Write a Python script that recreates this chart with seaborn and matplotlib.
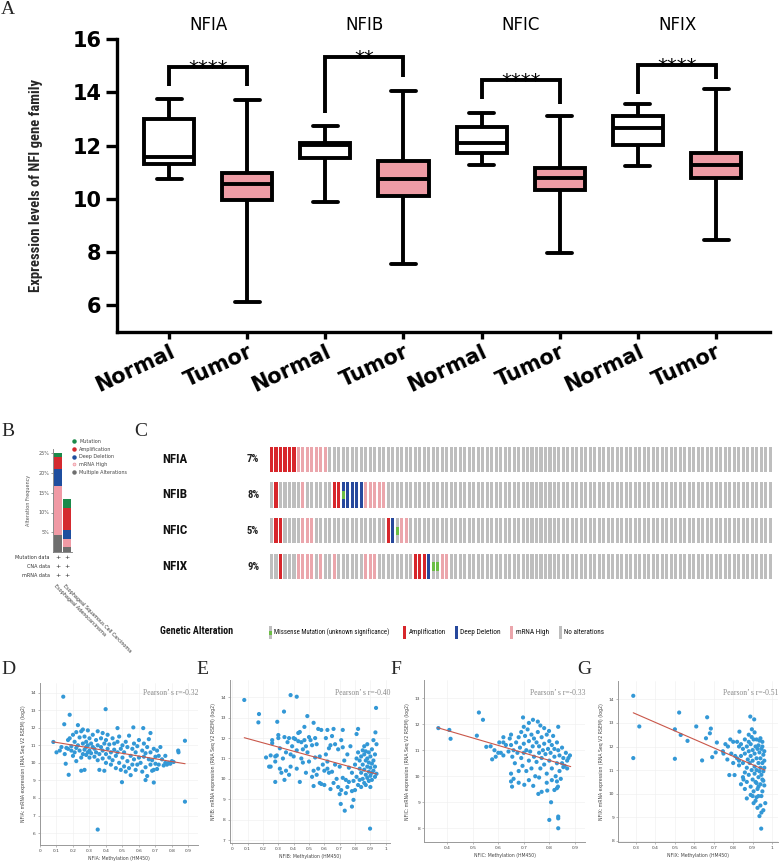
import numpy as np
import pandas as pd
import matplotlib
matplotlib.use("Agg")
import matplotlib.pyplot as plt
import seaborn as sns
from matplotlib import font_manager as fm
from matplotlib.transforms import blended_transform_factory as blend, ScaledTranslation
from matplotlib.lines import Line2D

sns.set_theme(style="white")
plt.rcParams["font.family"] = ["DejaVu Sans"]
_names = {f.name for f in fm.fontManager.ttflist}
NARROW = "Liberation Sans"
for _cand in ["Liberation Sans Narrow", "Roboto Condensed", "Open Sans Condensed", "Liberation Sans"]:
    if _cand in _names:
        NARROW = _cand
        break
SERIF = "Liberation Serif" if "Liberation Serif" in _names else "DejaVu Serif"

genes = ["NFIA", "NFIB", "NFIC", "NFIX"]
groups = ["Normal", "Tumor"]
box_low = [10.73, 6.12, 9.87, 7.55, 11.26, 7.96, 11.23, 8.46]
box_q1 = [11.32, 9.97, 11.52, 10.09, 11.72, 10.34, 12.01, 10.78]
box_med = [11.57, 10.57, 12.01, 10.73, 12.11, 10.78, 12.66, 11.29]
box_q3 = [13.02, 10.98, 12.11, 11.41, 12.70, 11.15, 13.11, 11.72]
box_high = [13.74, 13.71, 12.73, 14.06, 13.23, 13.13, 13.55, 14.12]
bracket_top = [14.97, 15.32, 14.46, 15.03]
bracket_left_end = [14.24, 13.21, 13.74, 13.96]
bracket_right_end = [14.24, 14.59, 13.55, 14.50]
stars = ["****", "**", "****", "****"]

# ---------------- Panel B data ----------------
b_cancers = ["Esophageal Adenocarcinoma", "Esophageal Squamous Cell Carcinoma"]
b_types = ["Multiple Alterations", "mRNA High", "Deep Deletion", "Amplification", "Mutation"]
b_multiple = [4.2, 1.25]
b_mrna = [12.4, 2.1]
b_deldeep = [4.4, 2.3]
b_amp = [3.0, 5.6]
b_mut = [1.0, 2.25]
b_rows = ["Mutation data", "CNA data", "mRNA data"]

# ---------------- Panel C data (oncoprint) ----------------
n_cases = 112
c_pct = ["7%", "8%", "5%", "9%"]
c_amp = {"NFIA": [0, 1, 2, 3, 4, 5], "NFIB": [1, 14, 15], "NFIC": [1, 2, 26], "NFIX": [2, 32, 33, 34]}
c_del = {"NFIA": [], "NFIB": [16, 17, 18, 19, 20], "NFIC": [27], "NFIX": [35]}
c_mrna = {"NFIA": [6, 7, 8, 9, 10, 11, 12], "NFIB": [7, 21, 22, 23, 24, 25],
          "NFIC": [7, 8, 9, 29, 30], "NFIX": [6, 7, 8, 9, 11, 14, 21, 22, 23, 38, 39]}
c_mut = {"NFIA": [], "NFIB": [16], "NFIC": [28], "NFIX": [36, 37]}
c_legend = ["Missense Mutation (unknown significance)", "Amplification", "Deep Deletion",
            "mRNA High", "No alterations"]

# ---------------- Panels D-G data ----------------
D_pts = [(0.081,11.19),(0.141,13.77),(0.147,12.2),(0.18,12.74),(0.398,13.06),(0.35,6.2),(0.879,7.79),
 (0.879,11.26),(0.838,10.7),(0.497,8.9),(0.69,8.88),(0.64,9.02),(0.174,9.32),(0.156,9.95),(0.47,11.98),
 (0.566,12.02),(0.626,11.98),(0.67,11.7),(0.8,10.1),
 (0.10,10.6),(0.12,10.7),(0.13,10.9),(0.15,10.5),(0.16,10.85),(0.17,11.3),(0.17,10.8),(0.18,11.4),
 (0.19,10.7),(0.19,10.95),(0.20,10.4),(0.20,11.6),(0.21,10.6),(0.21,11.2),(0.22,10.1),(0.22,11.75),
 (0.22,10.85),(0.23,11.0),(0.23,12.15),(0.24,10.7),(0.24,11.45),(0.25,9.55),(0.25,10.3),(0.25,11.8),
 (0.26,10.5),(0.26,11.1),(0.26,11.9),(0.27,10.75),(0.27,9.6),(0.27,11.5),(0.28,10.9),(0.28,11.2),
 (0.28,10.45),(0.29,11.85),(0.29,10.6),(0.29,11.0),(0.30,10.3),(0.30,11.4),(0.30,10.7),
 (0.31,11.1),(0.31,10.55),(0.32,10.9),(0.32,11.6),(0.33,10.35),(0.33,10.8),(0.34,11.3),(0.34,10.6),
 (0.35,10.15),(0.35,11.0),(0.35,11.8),(0.36,10.5),(0.36,9.6),(0.37,10.9),(0.37,11.4),(0.38,10.25),
 (0.38,10.7),(0.38,11.7),(0.39,11.1),(0.39,9.55),(0.40,10.5),(0.40,11.3),(0.40,10.0),(0.41,10.8),
 (0.41,11.6),(0.42,10.3),(0.42,11.05),(0.43,10.6),(0.43,9.9),(0.44,11.4),(0.44,10.15),(0.45,10.75),
 (0.45,11.1),(0.46,10.4),(0.46,9.7),(0.47,11.2),(0.47,10.6),(0.48,10.0),(0.48,11.5),(0.49,10.8),
 (0.49,9.6),(0.50,10.3),(0.50,11.0),
 (0.51,9.8),(0.51,10.6),(0.52,11.2),(0.52,9.5),(0.53,10.1),(0.53,10.9),(0.54,9.7),(0.54,11.55),
 (0.55,10.4),(0.55,9.3),(0.56,10.8),(0.56,9.9),(0.57,11.1),(0.57,10.2),(0.58,9.6),(0.58,10.6),
 (0.59,10.95),(0.59,9.9),(0.60,10.3),(0.60,11.3),(0.61,10.0),(0.62,10.7),(0.62,9.5),(0.63,10.35),
 (0.63,11.1),(0.64,9.75),(0.64,10.55),(0.65,10.9),(0.65,9.25),(0.66,10.2),(0.66,11.35),(0.67,9.9),
 (0.67,10.6),(0.68,10.15),(0.68,9.55),(0.69,10.8),(0.69,9.6),(0.70,10.35),(0.70,9.95),
 (0.71,10.7),(0.71,9.65),(0.72,10.4),(0.72,9.9),(0.73,10.9),(0.74,10.2),(0.75,9.85),(0.76,10.4),
 (0.77,9.9),(0.78,10.0),(0.79,9.95),(0.81,10.05),(0.84,10.6),(0.76,10.0)]
E_pts = [(0.078,13.87),(0.174,13.18),(0.17,12.77),(0.337,13.3),(0.38,14.11),(0.42,14.03),(0.489,13.08),
 (0.937,13.48),(0.933,12.28),(0.898,7.56),(0.733,8.44),(0.707,8.77),(0.78,8.64),(0.79,8.97),(0.293,12.8),
 (0.30,12.15),(0.34,12.05),(0.44,12.3),(0.47,12.55),(0.53,12.75),(0.56,12.45),(0.62,12.4),(0.66,12.45),
 (0.72,12.4),(0.82,12.45),(0.81,12.2),
 (0.22,11.05),(0.24,10.6),(0.25,10.6),(0.25,11.15),(0.26,11.75),(0.26,11.9),(0.28,11.1),(0.28,10.85),
 (0.28,9.85),(0.29,11.15),(0.30,12.0),(0.31,10.5),(0.31,11.5),(0.32,10.3),(0.33,11.0),(0.34,9.95),
 (0.35,10.4),(0.35,11.3),(0.36,11.8),(0.37,10.2),(0.37,12.0),(0.38,11.2),(0.38,10.6),(0.39,11.6),
 (0.40,11.1),(0.40,12.0),(0.41,11.95),(0.42,10.5),(0.42,11.4),(0.43,12.25),(0.43,11.85),(0.44,9.85),
 (0.45,11.0),(0.45,11.8),(0.46,11.45),(0.46,10.8),(0.47,11.9),(0.48,10.3),(0.48,11.6),(0.49,11.3),
 (0.50,10.85),(0.50,12.05),
 (0.51,11.9),(0.52,10.1),(0.52,11.65),(0.53,9.65),(0.53,10.4),(0.54,12.0),(0.54,11.05),(0.55,10.2),
 (0.55,11.7),(0.56,10.5),(0.57,9.8),(0.57,11.1),(0.58,9.75),(0.58,12.4),(0.59,10.7),(0.60,10.4),
 (0.60,9.7),(0.61,11.2),(0.61,12.0),(0.62,10.5),(0.62,10.85),(0.63,11.5),(0.63,10.3),(0.64,9.5),
 (0.64,11.65),(0.65,10.35),(0.65,12.1),(0.66,9.8),(0.67,11.7),(0.67,10.7),(0.68,10.0),(0.69,9.6),
 (0.69,11.45),(0.70,9.25),(0.70,10.6),(0.71,9.45),(0.71,11.9),(0.72,11.55),(0.72,10.05),(0.73,10.9),
 (0.74,9.3),(0.74,9.95),(0.75,9.6),(0.75,11.2),(0.76,9.85),(0.76,10.55),(0.77,11.6),(0.78,9.4),
 (0.78,10.3),(0.79,9.9),(0.80,10.7),(0.80,9.45),
 (0.81,10.1),(0.81,11.0),(0.82,11.3),(0.82,9.7),(0.83,10.5),(0.83,10.9),(0.83,9.95),(0.84,11.1),
 (0.84,10.3),(0.84,9.6),(0.85,10.7),(0.85,11.4),(0.85,10.0),(0.86,11.2),(0.86,10.45),(0.86,9.8),
 (0.86,11.6),(0.87,10.9),(0.87,10.2),(0.87,11.35),(0.87,9.7),(0.88,10.6),(0.88,10.05),(0.88,11.0),
 (0.88,11.7),(0.89,10.35),(0.89,9.9),(0.89,10.8),(0.89,11.3),(0.90,10.15),(0.90,10.55),(0.90,11.1),
 (0.90,9.6),(0.91,10.3),(0.91,10.75),(0.91,11.45),(0.91,9.95),(0.92,10.4),(0.92,11.9),(0.92,10.9),
 (0.93,10.1),(0.93,11.2),(0.93,10.6),(0.94,10.25),(0.94,11.7)]
F_pts = [(0.365,11.85),(0.408,11.78),(0.413,11.44),(0.524,12.45),(0.54,12.17),(0.516,11.56),(0.553,11.13),
 (0.576,10.65),(0.604,11.3),(0.62,11.3),(0.697,12.26),(0.736,12.17),(0.765,11.95),(0.799,11.74),
 (0.835,11.9),(0.807,9.0),(0.80,8.32),(0.835,8.38),(0.835,8.45),(0.835,8.0),(0.65,9.8),(0.654,9.6),
 (0.702,9.67),(0.737,9.63),(0.757,9.32),(0.77,9.4),(0.792,9.45),(0.82,9.47),(0.83,9.54),(0.834,9.6),
 (0.881,10.8),(0.87,10.6),(0.86,10.4),
 (0.61,10.9),(0.62,10.8),(0.63,11.2),(0.64,10.95),(0.645,11.45),(0.65,10.1),(0.65,11.6),(0.655,10.75),
 (0.66,11.0),(0.665,10.5),(0.67,11.3),(0.675,10.9),(0.68,11.5),(0.68,10.2),(0.685,11.1),(0.69,10.7),
 (0.69,11.7),(0.695,10.4),(0.70,11.25),(0.70,10.9),(0.705,11.55),(0.71,10.2),(0.71,11.0),(0.715,11.8),
 (0.72,10.6),(0.72,11.35),(0.725,10.95),(0.73,11.6),(0.73,10.3),(0.735,11.15),(0.74,10.75),(0.74,11.45),
 (0.745,10.0),(0.75,11.3),(0.75,10.55),(0.755,11.7),(0.76,10.9),(0.76,11.15),(0.765,10.3),(0.77,11.5),
 (0.77,10.7),(0.775,11.0),(0.78,10.45),(0.78,11.25),(0.785,10.85),(0.79,11.6),(0.79,10.1),(0.795,11.05),
 (0.80,10.6),(0.80,11.35),(0.805,10.9),(0.81,11.2),(0.81,10.3),(0.815,11.55),(0.82,10.75),(0.82,11.05),
 (0.825,10.0),(0.83,11.3),(0.83,10.5),(0.835,11.0),(0.84,10.2),(0.84,10.8),(0.845,9.9),(0.85,11.1),
 (0.85,10.5),(0.855,10.7),(0.66,9.9),(0.68,9.75),(0.72,9.85),(0.76,9.95),(0.79,9.75),(0.81,9.85),
 (0.83,9.8),(0.855,10.35),(0.865,10.9),(0.87,10.3),(0.875,10.7),(0.70,11.9),(0.72,12.05),(0.755,12.1),
 (0.78,11.85),(0.65,11.2),(0.62,11.5),(0.60,10.9),(0.585,11.0),(0.57,11.15),(0.59,10.75)]
G_pts = [(0.286,14.15),(0.286,11.51),(0.317,12.85),(0.5,12.73),(0.5,11.48),(0.522,13.44),(0.53,12.49),
 (0.565,12.24),(0.61,12.85),(0.64,11.41),(0.66,12.35),(0.666,13.24),(0.68,12.56),(0.685,12.76),
 (0.692,11.55),(0.71,11.75),(0.716,12.17),(0.747,11.8),(0.773,12.0),(0.78,10.79),(0.807,10.79),
 (0.80,12.2),(0.832,12.63),(0.888,13.27),(0.908,13.15),(0.896,12.73),(0.944,8.52),(0.965,9.6),(0.853,10.6),
 (0.82,11.5),(0.83,11.2),(0.83,12.0),(0.84,11.6),(0.84,10.4),(0.85,11.9),(0.85,11.3),(0.86,12.3),
 (0.86,10.9),(0.86,11.7),(0.87,11.1),(0.87,12.0),(0.87,10.5),(0.875,11.45),(0.88,11.8),(0.88,10.8),
 (0.88,12.2),(0.885,11.3),(0.89,10.3),(0.89,11.6),(0.89,12.1),(0.895,11.0),(0.90,11.85),(0.90,10.6),
 (0.90,11.4),(0.905,12.3),(0.905,10.1),(0.91,11.15),(0.91,11.7),(0.91,10.85),(0.915,9.7),(0.915,12.0),
 (0.92,11.5),(0.92,10.45),(0.92,11.0),(0.925,11.9),(0.925,10.2),(0.93,11.3),(0.93,9.9),(0.93,10.7),
 (0.935,11.75),(0.935,12.25),(0.935,10.95),(0.94,11.5),(0.94,10.4),(0.94,9.5),(0.94,11.1),(0.945,10.8),
 (0.945,11.9),(0.945,9.9),(0.95,11.3),(0.95,10.6),(0.95,10.1),(0.95,12.0),(0.955,11.65),(0.955,10.95),
 (0.955,9.3),(0.96,11.4),(0.96,10.35),(0.96,11.8),(0.945,9.2),(0.935,9.05),(0.925,9.4),(0.915,10.5),
 (0.90,9.9),(0.895,12.4),(0.88,12.5),(0.87,9.8),(0.86,10.2),(0.85,10.7),(0.84,12.1),(0.83,11.4),
 (0.82,12.2),(0.81,11.6),(0.80,11.3),(0.79,11.7),(0.785,12.3),(0.77,11.45),(0.76,12.1),(0.75,11.7),
 (0.91,12.6),(0.92,12.3),(0.93,12.05),(0.94,12.35),(0.95,12.2),(0.96,11.1),(0.955,10.55),(0.93,10.3),
 (0.92,9.85),(0.905,9.6),(0.89,9.95)]
trend_x = {"D": [0.077, 0.88], "E": [0.078, 0.94], "F": [0.361, 0.884], "G": [0.286, 0.963]}
trend_y = {"D": [11.2, 9.95], "E": [12.02, 10.24], "F": [11.87, 10.37], "G": [13.43, 11.0]}
pearson_r = {"D": "-0.32", "E": "-0.40", "F": "-0.33", "G": "-0.51"}

# ---------------- styles ----------------
PINK = "#EE9CA5"
W, H = 780, 861
fig = plt.figure(figsize=(W / 100, H / 100), dpi=100)
renderer = fig.canvas.get_renderer()


def add_ax(l, t, r, b):
    return fig.add_axes([l / W, 1 - b / H, (r - l) / W, (b - t) / H])


def fx(px):
    return px / W


def fy(py):
    return 1 - py / H


def fit(t, target_px, vertical=False):
    """scale a text's font size so that its extent matches the reference width"""
    bb = t.get_window_extent(renderer)
    cur = bb.height if vertical else bb.width
    if cur > 0:
        t.set_fontsize(t.get_fontsize() * target_px / cur)


# ======================= Panel A =======================
keys = [f"{g} {s}" for g in genes for s in groups]
rows = []
for i, k in enumerate(keys):
    for v in (box_low[i], box_q1[i], box_med[i], box_q3[i], box_high[i]):
        rows.append({"key": k, "group": k.split()[1], "value": v})
dfA = pd.DataFrame(rows)

axA = add_ax(116.7, 39.3, 770, 331.7)
sns.boxplot(data=dfA, x="key", y="value", hue="group", order=keys, hue_order=groups,
            palette={"Normal": "white", "Tumor": PINK}, saturation=1, dodge=False,
            width=0.64, whis=(0, 100), linewidth=2.8, linecolor="black", fliersize=0,
            legend=False, ax=axA)
axA.set_xlim(-0.67, 7.69)
axA.set_ylim(5, 16)
axA.set_yticks([6, 8, 10, 12, 14, 16])
axA.set_xticks(range(8))
axA.set_xticklabels([k.split()[1] for k in keys], rotation=25, ha="right",
                    rotation_mode="anchor", fontsize=15, fontweight="bold")
for lab in axA.get_xticklabels():
    lab.set_transform(lab.get_transform() + ScaledTranslation(5 / 100, 0, fig.dpi_scale_trans))
for lab in axA.get_yticklabels():
    lab.set_fontsize(15)
    lab.set_fontweight("bold")
axA.set_xlabel("")
ylabA = axA.set_ylabel("Expression levels of NFI gene family", fontsize=11, fontweight="bold",
                       family=[NARROW, "DejaVu Sans"])
fit(ylabA, 213, vertical=True)
axA.yaxis.set_label_coords(-0.1128, 0.5)
for s in ["top", "right"]:
    axA.spines[s].set_visible(False)
for s in ["left", "bottom"]:
    axA.spines[s].set_linewidth(2.4)
    axA.spines[s].set_color("black")
axA.tick_params(axis="y", length=8, width=2.4, pad=3, colors="black", left=True)
axA.tick_params(axis="x", length=5, width=2.4, pad=2, colors="black", bottom=True)
for gi, g in enumerate(genes):
    x0, x1 = 2 * gi, 2 * gi + 1
    axA.plot([x0, x0, x1, x1], [bracket_left_end[gi], bracket_top[gi], bracket_top[gi], bracket_right_end[gi]],
             color="black", lw=2.8, solid_joinstyle="miter", solid_capstyle="butt", clip_on=False)
    axA.text((x0 + x1) / 2, bracket_top[gi] - 0.26, stars[gi], ha="center", va="baseline",
             fontsize=14, color="black")
    axA.text((x0 + x1) / 2, 16.54, g, ha="center", va="center", fontsize=12, color="black",
             clip_on=False)

fig.text(fx(1), fy(9), "A", family=SERIF, fontsize=14, ha="left", va="center")

# ======================= Panel B =======================
BFS = 3.5
axB = add_ax(52.7, 552 - 26 * 3.95, 72, 552)
b_colors = {"Multiple Alterations": "#6E6E6E", "mRNA High": "#F09AA5", "Deep Deletion": "#1F4E9E",
            "Amplification": "#D42A2F", "Mutation": "#1B8A4A"}
b_values = {"Multiple Alterations": b_multiple, "mRNA High": b_mrna, "Deep Deletion": b_deldeep,
            "Amplification": b_amp, "Mutation": b_mut}
bottom = np.zeros(2)
for t in b_types:
    axB.bar(range(2), b_values[t], bottom=bottom, width=0.88, color=b_colors[t], linewidth=0)
    bottom += np.array(b_values[t])
axB.set_xlim(-0.61, 1.53)
axB.set_ylim(0, 26)
axB.set_yticks([5, 10, 15, 20, 25])
axB.set_yticklabels(["5%", "10%", "15%", "20%", "25%"], fontsize=BFS, color="#555555")
axB.set_xticks([])
axB.set_ylabel("Alteration Frequency", fontsize=BFS, color="#555555", labelpad=5)
for s in ["top", "right"]:
    axB.spines[s].set_visible(False)
for s in ["left", "bottom"]:
    axB.spines[s].set_linewidth(0.6)
    axB.spines[s].set_color("#777777")
axB.tick_params(axis="y", length=1.5, width=0.5, pad=1, left=True, color="#777777")
handles = []
for t in ["Mutation", "Amplification", "Deep Deletion", "mRNA High", "Multiple Alterations"]:
    if t == "mRNA High":
        handles.append(Line2D([], [], ls="", marker="o", markersize=2.0, markerfacecolor="#FBD5DA",
                              markeredgecolor=b_colors[t], markeredgewidth=0.6, label=t))
    else:
        handles.append(Line2D([], [], ls="", marker="o", markersize=2.2, color=b_colors[t], label=t))
axB.legend(handles=handles, loc="upper left", bbox_to_anchor=(fx(71), fy(439)),
           bbox_transform=fig.transFigure, frameon=False, fontsize=BFS, borderpad=0,
           borderaxespad=0, handlelength=1.2, handletextpad=0.5, labelspacing=0.55,
           labelcolor="#444444")
trB = blend(axB.transData, fig.transFigure)
for ri, (lab, yy) in enumerate(zip(b_rows, [557.7, 566.7, 575.7])):
    fig.text(fx(50), fy(yy), lab, fontsize=BFS, ha="right", va="center", color="#333333")
    for ci in range(2):
        axB.text(ci, fy(yy), "+", transform=trB, fontsize=4.5, ha="center", va="center",
                 color="#222222")
for ci, lab in enumerate(b_cancers):
    axB.text(ci - 0.2, fy(583), lab, transform=trB, fontsize=BFS, rotation=-45,
             rotation_mode="anchor", ha="left", va="top", color="#333333")
fig.text(fx(1), fy(432), "B", family=SERIF, fontsize=14, ha="left", va="center")

# ======================= Panel C =======================
GRAY, RED, BLUE, LPINK, GREEN = "#BEBEBE", "#D7262B", "#26489C", "#EBA6AC", "#6CBE45"
row_h = 0.70
axC = add_ax(270, 441.3, 773, 584.5)
cols = np.arange(n_cases)
for ri, g in enumerate(genes):
    colors = [GRAY] * n_cases
    for c in c_mrna[g]:
        colors[c] = LPINK
    for c in c_amp[g]:
        colors[c] = RED
    for c in c_del[g]:
        colors[c] = BLUE
    axC.bar(cols, row_h, bottom=ri - row_h / 2, width=0.68, color=colors, linewidth=0)
    if c_mut[g]:
        axC.bar(c_mut[g], 0.24, bottom=ri - 0.12, width=0.68, color=GREEN, linewidth=0)
axC.set_xlim(-0.34, n_cases - 0.34)
axC.set_ylim(3.5, -0.5)
axC.axis("off")
trC = blend(fig.transFigure, axC.transData)
for ri, g in enumerate(genes):
    tg = axC.text(fx(162), ri, g, transform=trC, fontsize=7.5, fontweight="bold",
                  family=[NARROW, "DejaVu Sans"], ha="left", va="center", color="#111111")
    fit(tg, 25)
    tp = axC.text(fx(247), ri, c_pct[ri], transform=trC, fontsize=6.5, fontweight="bold",
                  family=[NARROW, "DejaVu Sans"], ha="left", va="center", color="#222222")
    fit(tp, 12)
fig.text(fx(134), fy(432), "C", family=SERIF, fontsize=14, ha="left", va="center")

# legend of panel C
axCL = add_ax(150, 620, 780, 642)
axCL.set_xlim(150, 780)
axCL.set_ylim(642, 620)
axCL.axis("off")
leg_x = [270, 404, 456, 511.6, 560]
leg_w = [115, 37, 40.5, 33, 40]
leg_col = [GRAY, RED, BLUE, LPINK, GRAY]
axCL.bar(leg_x, 13, bottom=626, width=3, color=leg_col, linewidth=0)
axCL.bar([leg_x[0]], 4, bottom=630.5, width=3, color=GREEN, linewidth=0)
for xx, lab, ww in zip(leg_x, c_legend, leg_w):
    tl = axCL.text(xx + 4.5, 632.5, lab, fontsize=6, family=[NARROW, "DejaVu Sans"], ha="left",
                   va="center", color="#111111")
    fit(tl, ww)
tga = axCL.text(160, 631, "Genetic Alteration", fontsize=7.5, fontweight="bold",
                family=[NARROW, "DejaVu Sans"], ha="left", va="center", color="#111111")
fit(tga, 72)

# ======================= Panels D-G =======================
def fmt(v):
    if abs(v) < 1e-9:
        return "0"
    if abs(v - 1) < 1e-9:
        return "1"
    return f"{v:.1f}"


scatter_specs = [
    ("D", "NFIA", D_pts, (40, 683, 198.3, 845), (0, 0.96), (5.32, 14.55),
     [i / 10 for i in range(0, 10)], list(range(6, 15)), 1),
    ("E", "NFIB", E_pts, (230, 680, 390, 843.3), (-0.015, 1.028), (6.84, 14.85),
     [i / 10 for i in range(0, 11)], list(range(7, 15)), 196),
    ("F", "NFIC", F_pts, (424.3, 680, 585, 842.3), (0.31, 0.94), (7.46, 13.7),
     [i / 10 for i in range(4, 10)], list(range(8, 14)), 390),
    ("G", "NFIX", G_pts, (618.3, 680.7, 778.3, 842.3), (0.209, 1.032), (7.94, 14.79),
     [i / 10 for i in range(3, 11)], list(range(8, 15)), 577),
]
for letter, gene, pts, box, xl, yl, xt, yt, lx in scatter_specs:
    ax = add_ax(*box)
    px = [p[0] for p in pts]
    py = [p[1] for p in pts]
    ax.grid(True, color="#EEEEEE", lw=0.4)
    ax.set_axisbelow(True)
    sns.scatterplot(x=px, y=py, s=9, color="#3398D6", edgecolor="none", legend=False, ax=ax, zorder=3)
    sns.lineplot(x=trend_x[letter], y=trend_y[letter], color="#C9574A", lw=0.8, ax=ax, zorder=4)
    ax.set_xlim(*xl)
    ax.set_ylim(*yl)
    ax.set_xticks(xt)
    ax.set_xticklabels([fmt(v) for v in xt])
    ax.set_yticks(yt)
    ax.set_yticklabels([str(v) for v in yt])
    ax.tick_params(labelsize=3.2, labelcolor="#444444", length=1.5, width=0.4, pad=1.5,
                   color="#888888", left=True, bottom=True)
    for s in ["top", "right"]:
        ax.spines[s].set_visible(False)
    for s in ["left", "bottom"]:
        ax.spines[s].set_linewidth(0.7)
        ax.spines[s].set_color("#999999")
    ax.set_xlabel(f"{gene}: Methylation (HM450)", fontsize=3.3, color="#444444", labelpad=2)
    ax.set_ylabel(f"{gene}: mRNA expression (RNA Seq V2 RSEM) (log2)", fontsize=3.3,
                  color="#444444", labelpad=3)
    ax.text(1.0, fy(693), f"Pearson\u2019 s r={pearson_r[letter]}",
            transform=blend(ax.transAxes, fig.transFigure), ha="right", va="center",
            fontsize=5.5, family=SERIF, color="#8A8A8A")
    fig.text(fx(lx), fy(670), letter, family=SERIF, fontsize=14, ha="left", va="center")

fig.savefig("out.png", dpi=100, facecolor="white")
